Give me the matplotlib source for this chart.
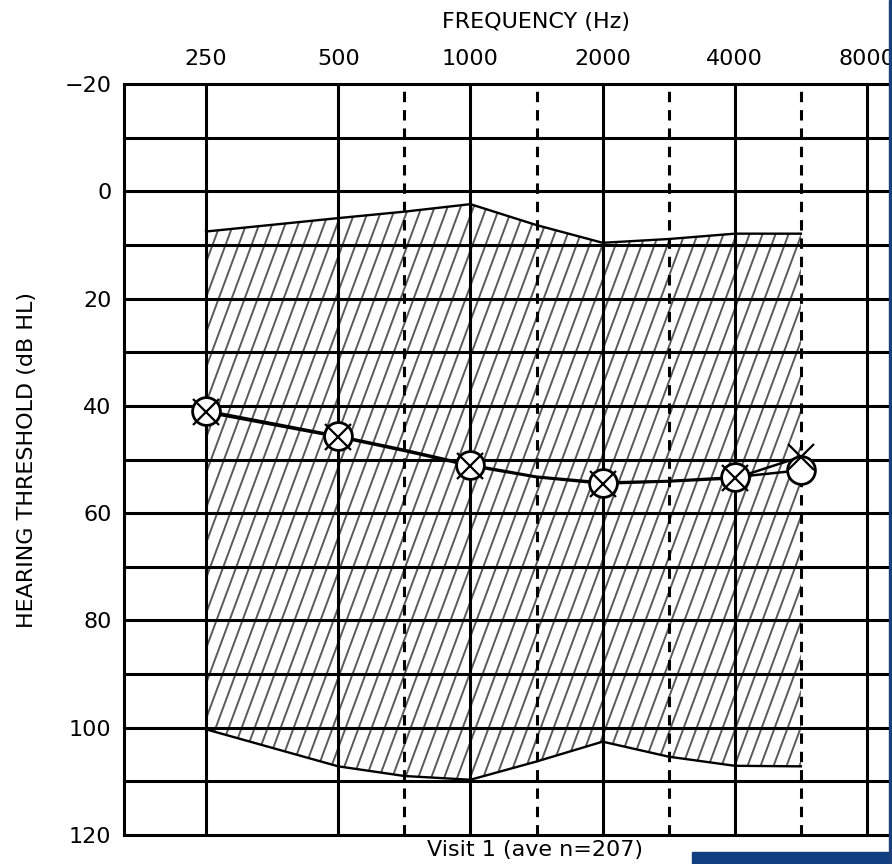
import matplotlib
matplotlib.use("Agg")
import matplotlib.pyplot as plt
from matplotlib.collections import LineCollection
from matplotlib.patches import Rectangle

# Audiometric frequency ladder: octaves sit one unit apart, half-octaves midway
grid_freqs = [250, 500, 750, 1000, 1500, 2000, 3000, 4000, 6000, 8000]
grid_pos = [0, 1, 1.5, 2, 2.5, 3, 3.5, 4, 4.5, 5]
octave_freqs = [250, 500, 1000, 2000, 4000, 8000]
half_octave_freqs = [750, 1500, 3000, 6000]
y_ticks = [-20, 0, 20, 40, 60, 80, 100, 120]

# Range of thresholds across the group (dB HL)
band_freqs = [250, 500, 750, 1000, 1500, 2000, 3000, 4000, 6000]
band_upper = [7.5, 5.0, 3.8, 2.4, 6.3, 9.6, 8.9, 7.9, 7.9]
band_lower = [100.3, 107.2, 109.0, 109.7, 106.3, 102.6, 105.4, 107.1, 107.2]

# Average thresholds per ear (dB HL)
mean_freqs = [250, 500, 750, 1000, 1500, 2000, 3000, 4000, 6000]
right_ear = [40.9, 45.6, 48.2, 51.0, 53.2, 54.3, 54.0, 53.3, 52.0]
left_ear = [41.2, 45.8, 48.4, 51.2, 53.3, 54.5, 54.1, 53.5, 49.5]
marker_freqs = [250, 500, 1000, 2000, 4000, 6000]

caption = "Visit 1 (ave n=207)"

pos = dict(zip(grid_freqs, grid_pos))
W, H = 892, 864
fig = plt.figure(figsize=(W / 100, H / 100), dpi=100)
ax_left, ax_top, ax_bottom = 124, 84, 835
ax = fig.add_axes([ax_left / W, (H - ax_bottom) / H, (W - ax_left) / W,
                   (ax_bottom - ax_top) / H])
px_per_oct = 132.2
ax.set_xlim((ax_left - 206) / px_per_oct, (W - 206) / px_per_oct)
ax.set_ylim(120, -20)

lw = 2.2
for y in range(-10, 120, 10):
    ax.axhline(y, color="black", lw=lw, zorder=2)
for f in octave_freqs:
    ax.axvline(pos[f], color="black", lw=lw, zorder=2)
for f in half_octave_freqs:
    ax.axvline(pos[f], color="black", lw=lw, ls=(0, (3.4, 2.6)), zorder=2)

# Hatched band between the upper and lower limits
bx = [pos[f] for f in band_freqs]
band = ax.fill_between(bx, band_upper, band_lower, facecolor="none",
                       edgecolor="none", zorder=1)
ax.plot(bx, band_upper, color="black", lw=1.7, zorder=3)
ax.plot(bx, band_lower, color="black", lw=1.7, zorder=3)

aw, ah = W - ax_left, ax_bottom - ax_top
slope, spacing = 2.7, 13.0
segs = []
k = -60
while k * spacing < aw + 20:
    x0 = k * spacing
    segs.append([(x0 / aw, 0.0), ((x0 + ah / slope) / aw, 1.0)])
    k += 1
hatch = LineCollection(segs, colors="#5a5a5a", linewidths=1.4,
                       transform=ax.transAxes, zorder=1.5)
hatch.set_clip_path(band.get_paths()[0], ax.transData)
ax.add_collection(hatch)

# Average threshold curves with ear symbols
mx = [pos[f] for f in mean_freqs]
ax.plot(mx, right_ear, color="black", lw=1.8, zorder=4)
ax.plot(mx, left_ear, color="black", lw=1.8, zorder=4)
r_pts = [right_ear[mean_freqs.index(f)] for f in marker_freqs]
l_pts = [left_ear[mean_freqs.index(f)] for f in marker_freqs]
kx = [pos[f] for f in marker_freqs]
ax.plot(kx, r_pts, ls="none", marker="o", ms=20, mfc="white", mec="black",
        mew=2.0, zorder=5)
ax.plot(kx, l_pts, ls="none", marker="x", ms=19, mec="black", mew=1.6,
        zorder=6)

for s in ("top", "bottom", "left"):
    ax.spines[s].set_linewidth(lw)
    ax.spines[s].set_zorder(7)
ax.spines["right"].set_visible(False)

fs = 16
ax.set_yticks(y_ticks)
ax.set_yticklabels([str(v).replace("-", "\u2212") for v in y_ticks])
ax.set_xticks([pos[f] for f in octave_freqs])
ax.set_xticklabels([str(f) for f in octave_freqs])
ax.xaxis.tick_top()
ax.tick_params(axis="y", length=0, pad=9, labelsize=fs)
ax.tick_params(axis="x", length=0, pad=11, labelsize=fs)

fig.text(536 / W, 1 - 22 / H, "FREQUENCY (Hz)", ha="center", va="center",
         fontsize=fs)
fig.text(27 / W, 1 - 460 / H, "HEARING THRESHOLD (dB HL)", ha="center",
         va="center", rotation=90, fontsize=fs)
fig.text(535 / W, 1 - 840 / H, caption, ha="center", va="top", fontsize=fs)

fig.patches.append(Rectangle((692 / W, 0), 200 / W, 12 / H,
                             transform=fig.transFigure, color="#123f80",
                             zorder=10))
fig.patches.append(Rectangle((889 / W, 0), 3 / W, 1,
                             transform=fig.transFigure, color="#1d3f7a",
                             zorder=10))

fig.savefig("out.png", dpi=100)
